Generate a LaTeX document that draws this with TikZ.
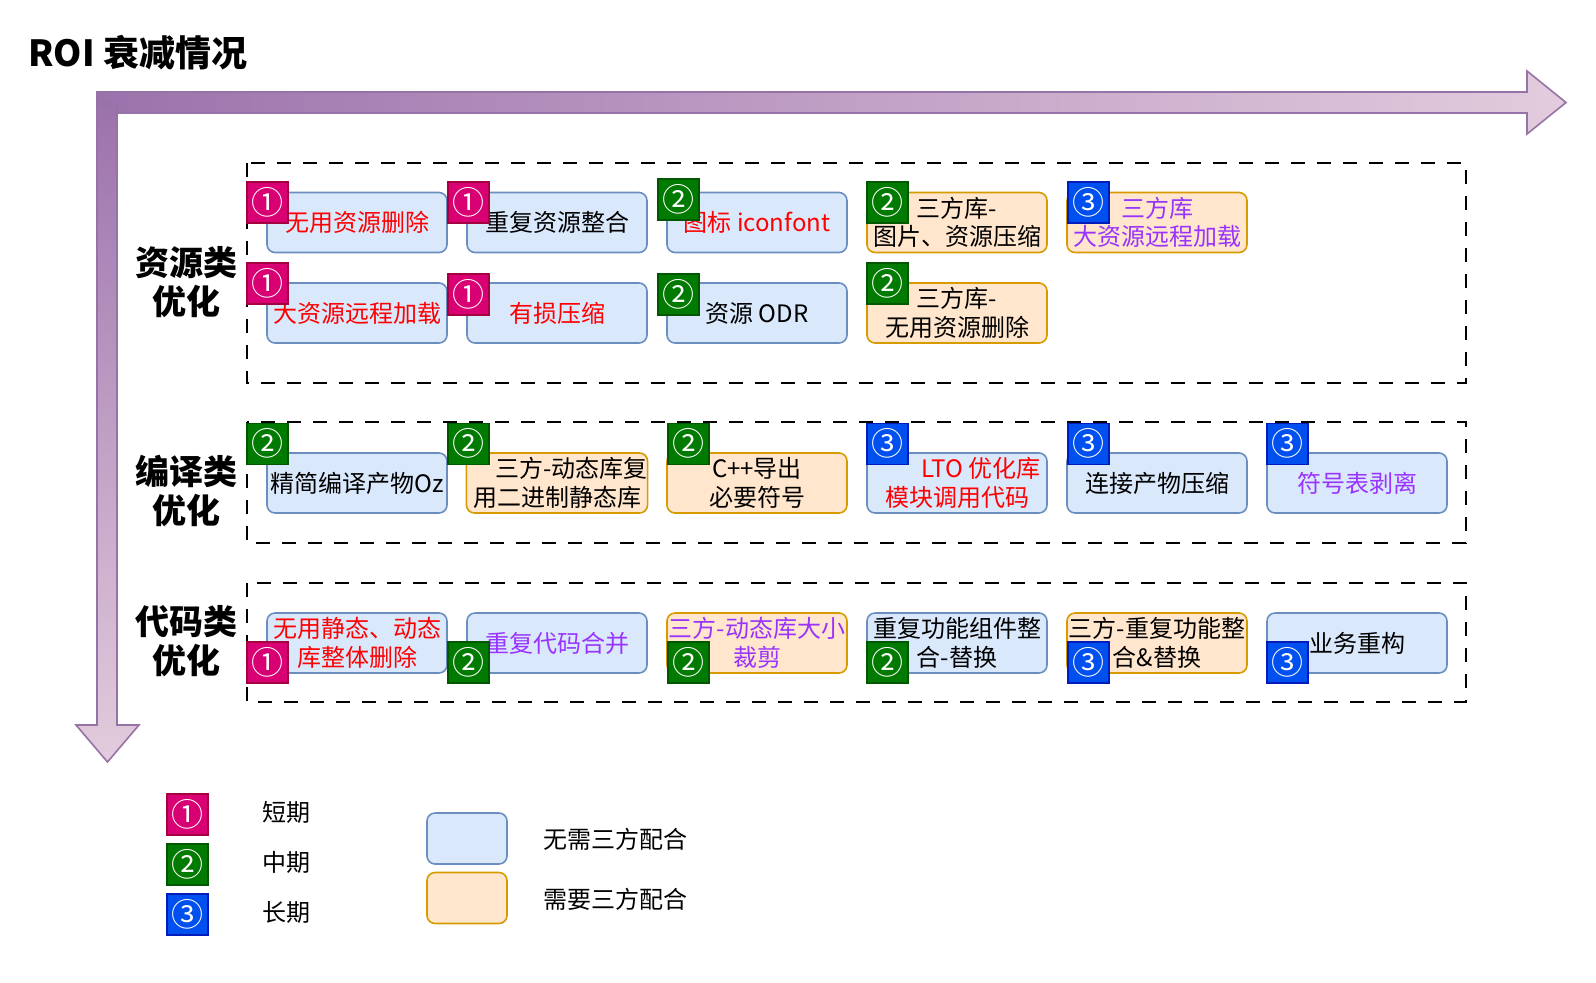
\documentclass[tikz,border=0pt]{standalone}
\usepackage{fontspec}
\setmainfont{Noto Sans CJK SC}
\usetikzlibrary{positioning}

\definecolor{bluefill}{HTML}{DAE8FC}
\definecolor{blueline}{HTML}{6C8EBF}
\definecolor{orangefill}{HTML}{FFE6CC}
\definecolor{orangeline}{HTML}{D79B00}
\definecolor{shortfill}{HTML}{D80073}
\definecolor{shortline}{HTML}{A50040}
\definecolor{midfill}{HTML}{007A00}
\definecolor{midline}{HTML}{005700}
\definecolor{longfill}{HTML}{0050EF}
\definecolor{longline}{HTML}{001DBC}
\definecolor{arrowline}{HTML}{9673A6}
\definecolor{arrowdark}{HTML}{9C72AC}
\definecolor{arrowlight}{HTML}{E3CCDD}
\definecolor{hotred}{HTML}{FF0000}
\definecolor{violet}{HTML}{9933FF}

\begin{document}
\begin{tikzpicture}[x=0.5pt, y=-0.5pt, font=\fontsize{12}{14.2}\selectfont]
\tikzset{
    item/.style={draw=blueline, fill=bluefill, rounded corners=4pt, line width=0.8pt, minimum width=90pt, minimum height=30pt, inner sep=0pt, align=center},
    thirdparty/.style={item, draw=orangeline, fill=orangefill},
    badge/.style={minimum size=20.5pt, inner sep=0pt, line width=0.8pt, text=white, anchor=north west, font=\fontsize{16}{16}\selectfont},
    shortterm/.style={badge, draw=shortline, fill=shortfill},
    midterm/.style={badge, draw=midline, fill=midfill},
    longterm/.style={badge, draw=longline, fill=longfill},
    group/.style={draw, line width=1pt, dash pattern=on 7pt off 6pt},
    category/.style={font=\bfseries\fontsize{17}{19.5}\selectfont, align=center},
    bigarrow/.style={draw=arrowline, line width=0.8pt}
}
\useasboundingbox (0,0) rectangle (1596,982);
\node[font=\bfseries\fontsize{18}{20}\selectfont, anchor=west, inner sep=0pt] (title) at (28,53) {ROI 衰减情况};
\path[bigarrow, left color=arrowdark, right color=arrowlight] (97,92) -- (1527,92) -- (1527,71) -- (1566,102.5) -- (1527,134) -- (1527,113) -- (97,113) -- cycle;
\path[bigarrow, top color=arrowdark, bottom color=arrowlight] (97,104) -- (117,104) -- (117,725) -- (139,725) -- (107.5,762) -- (76,725) -- (97,725) -- cycle;
\draw[group] (247,163) rectangle (1466,383);
\draw[group] (247,422) rectangle (1466,543);
\draw[group] (247,583) rectangle (1466,702);
\node[category] (resCat) at (186,282) {资源类\\优化};
\node[category] (buildCat) at (186,491) {编译类\\优化};
\node[category] (codeCat) at (186,641) {代码类\\优化};

\node[item, text=hotred] (A1) at (357,222.5) {无用资源删除};
\node[item] (A2) at (557,222.5) {重复资源整合};
\node[item, text=hotred] (A3) at (757,222.5) {图标 iconfont};
\node[thirdparty] (A4) at (957,222.5) {三方库-\\图片、资源压缩};
\node[thirdparty, text=violet] (A5) at (1157,222.5) {三方库\\大资源远程加载};
\node[shortterm] (A1b) at (246,181) {①}; \node[shortterm] (A2b) at (447,181) {①};
\node[midterm] (A3b) at (657,178) {②}; \node[midterm] (A4b) at (866,181) {②};
\node[longterm] (A5b) at (1067,181) {③};

\node[item, text=hotred] (B1) at (357,313) {大资源远程加载};
\node[item, text=hotred] (B2) at (557,313) {有损压缩};
\node[item] (B3) at (757,313) {资源 ODR};
\node[thirdparty] (B4) at (957,313) {三方库-\\无用资源删除};
\node[shortterm] (B1b) at (246,262) {①}; \node[shortterm] (B2b) at (447,273) {①};
\node[midterm] (B3b) at (657,273) {②}; \node[midterm] (B4b) at (866,262) {②};

\node[item] (C1) at (357,483) {精简编译产物Oz};
\node[thirdparty] (C2) at (557,483) {\hspace*{1.2em}三方-动态库复\\用二进制静态库};
\node[thirdparty] (C3) at (757,483) {C++导出\\必要符号};
\node[item, text=hotred] (C4) at (957,483) {\hspace*{2em}LTO 优化库\\模块调用代码};
\node[item] (C5) at (1157,483) {连接产物压缩};
\node[item, text=violet] (C6) at (1357,483) {符号表剥离};
\node[midterm] (C1b) at (246,422.5) {②}; \node[midterm] (C2b) at (447,422.5) {②};
\node[midterm] (C3b) at (667,422.5) {②}; \node[longterm] (C4b) at (866,422.5) {③};
\node[longterm] (C5b) at (1067,422.5) {③}; \node[longterm] (C6b) at (1266,422.5) {③};

\node[item, text=hotred] (D1) at (357,643) {无用静态、动态\\库整体删除};
\node[item, text=violet] (D2) at (557,643) {重复代码合并};
\node[thirdparty, text=violet] (D3) at (757,643) {三方-动态库大小\\裁剪};
\node[item] (D4) at (957,643) {重复功能组件整\\合-替换};
\node[thirdparty] (D5) at (1157,643) {三方-重复功能整\\合\&替换};
\node[item] (D6) at (1357,643) {业务重构};
\node[shortterm] (D1b) at (246,641) {①}; \node[midterm] (D2b) at (447,641) {②};
\node[midterm] (D3b) at (667,641) {②}; \node[midterm] (D4b) at (866,641) {②};
\node[longterm] (D5b) at (1067,641) {③}; \node[longterm] (D6b) at (1266,641) {③};

\node[shortterm] (key1) at (166,793) {①}; \node (key1t) at (286,812) {短期};
\node[midterm] (key2) at (166,843) {②}; \node (key2t) at (286,862) {中期};
\node[longterm] (key3) at (166,893) {③}; \node (key3t) at (286,912) {长期};
\node[item, minimum width=40pt, minimum height=25.5pt] (keyBlue) at (467,838.5) {};
\node[thirdparty, minimum width=40pt, minimum height=25.5pt] (keyOrange) at (467,898) {};
\node[anchor=west] (keyBluet) at (536,839) {无需三方配合};
\node[anchor=west] (keyOranget) at (536,899) {需要三方配合};
\end{tikzpicture}
\end{document}
